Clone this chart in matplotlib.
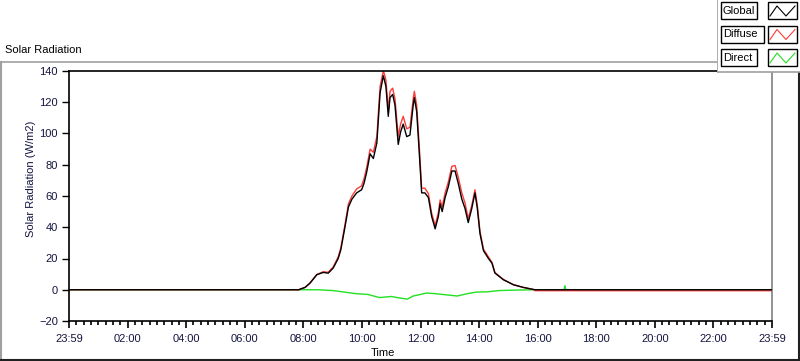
import numpy as np
import matplotlib
matplotlib.use("Agg")
import matplotlib.pyplot as plt
from matplotlib.patches import Rectangle
from matplotlib.lines import Line2D

plt.rcParams['font.family'] = ['Liberation Sans', 'DejaVu Sans']

# time of day in hours
t_global = [0.0, 7.85, 7.89, 8.06, 8.23, 8.46, 8.68, 8.85, 9.02, 9.19, 9.28, 9.42, 9.54,
            9.66, 9.82, 9.99, 10.07, 10.16, 10.28, 10.39, 10.51, 10.62, 10.73, 10.77,
            10.82, 10.90, 10.96, 11.05, 11.13, 11.24, 11.32, 11.41, 11.53, 11.64, 11.75,
            11.79, 11.87, 11.96, 12.04, 12.15, 12.27, 12.38, 12.50, 12.61, 12.67, 12.74,
            12.84, 12.95, 13.07, 13.18, 13.29, 13.41, 13.52, 13.63, 13.75, 13.86, 13.94,
            14.03, 14.15, 14.32, 14.44, 14.54, 14.83, 15.17, 15.51, 15.85, 15.91, 24.0]
global_rad = [0, 0, 0.4, 1.5, 4.3, 9.6, 11.1, 10.6, 13.9, 20, 25.6, 40, 53,
              58, 62, 64, 68, 75, 87, 84, 94, 126, 137, 134,
              130, 111, 123, 125, 118, 93, 101, 106, 98, 99, 118,
              123, 114, 87, 62, 62, 59, 47, 39, 47, 55, 50,
              59, 66, 76, 76, 68, 58, 52, 43, 52, 62, 52,
              36, 25, 20, 17, 10.7, 6.4, 3.2, 1.5, 0.2, 0, 0]
diffuse_rad = [0, 0, 0.4, 1.5, 4.4, 9.8, 11.5, 11.2, 14.6, 21, 26.8, 41.5, 55,
               60, 64.5, 66.5, 71, 78, 90, 88, 98, 130, 140, 138,
               134, 115, 127, 129, 122, 98, 106, 111, 103, 104, 122,
               127, 118, 91, 65, 65, 61.5, 49, 41, 49.5, 57.5, 53,
               62, 69, 79, 79.5, 72, 62, 55.5, 45.5, 54, 64, 54,
               37.5, 26, 21, 17.5, 11, 6.6, 3.3, 1.5, 0.2, -0.6, -0.6]

t_direct = [0.0, 7.9, 8.5, 9.0, 9.4, 9.8, 10.2, 10.6, 11.0, 11.3, 11.55, 11.75, 12.0,
            12.2, 12.5, 13.0, 13.25, 13.6, 13.9, 14.3, 14.7, 15.3, 15.9, 16.9, 16.93,
            16.96, 24.0]
direct_rad = [0, 0, 0, -0.5, -1.5, -2.5, -3, -5, -4.3, -5.3, -6, -4, -3,
              -2.1, -2.5, -3.5, -4, -2.5, -1.5, -1.3, -0.5, -0.2, 0, 0, 2.6,
              0, 0]

tick_hours = np.arange(0, 25, 2)
tick_labels = ['23:59', '02:00', '04:00', '06:00', '08:00', '10:00', '12:00',
               '14:00', '16:00', '18:00', '20:00', '22:00', '23:59']

W, H = 800, 361
fig = plt.figure(figsize=(8, 3.61), dpi=100)
fig.patch.set_facecolor('white')

# chart frame
frame = fig.add_axes([0, 0, 1, 1], zorder=-5)
frame.set_xlim(0, W)
frame.set_ylim(H, 0)
frame.axis('off')
frame.plot([0.5, 799.5], [61.5, 61.5], color='#a0a0a0', lw=1.2)
frame.plot([0.8, 0.8], [61.5, 360], color='#a0a0a0', lw=1.5)
frame.plot([0, 799.5], [359.8, 359.8], color='#202020', lw=1.5)
frame.plot([799.3, 799.3], [61.5, 360], color='#202020', lw=1.5)

ax = fig.add_axes([69 / W, 1 - 321 / H, (772 - 69) / W, (321 - 71) / H])
ax.plot(t_direct, direct_rad, color='#22e022', lw=1.0, zorder=1)
ax.plot(t_global, diffuse_rad, color='#ff3a3a', lw=1.0, zorder=2)
ax.plot(t_global, global_rad, color='black', lw=1.0, zorder=3)

ax.set_xlim(0, 24)
ax.set_ylim(-20, 140)
ax.set_xticks(tick_hours)
ax.set_xticklabels(tick_labels)
ax.set_xticks(np.arange(0, 24.01, 0.25), minor=True)
ax.set_yticks(np.arange(-20, 141, 20))
ax.tick_params(axis='x', which='major', length=5, width=1.2, pad=4,
               labelsize=8, labelcolor='#141440')
ax.tick_params(axis='x', which='minor', length=3, width=1.2)
ax.tick_params(axis='y', length=5, width=1.0, pad=3, labelsize=8, labelcolor='#141440')
for s in ['left', 'bottom', 'top']:
    ax.spines[s].set_color('black')
    ax.spines[s].set_linewidth(1.2)
ax.spines['right'].set_color('#808080')
ax.spines['right'].set_linewidth(1.2)

fig.text(5 / W, 1 - 50 / H, 'Solar Radiation', fontsize=8, va='center', ha='left')
fig.text(31 / W, 1 - 179 / H, 'Solar Radiation (W/m2)', fontsize=8, rotation=90,
         va='center', ha='center', color='#141440')
fig.text(383 / W, 1 - 353 / H, 'Time', fontsize=8, va='center', ha='center')

# legend box
leg = fig.add_axes([717 / W, 1 - 73 / H, 83 / W, 73 / H], zorder=5)
leg.set_xlim(717, 800)
leg.set_ylim(73, 0)
leg.axis('off')
leg.add_patch(Rectangle((717, 0), 83, 72, facecolor='white', edgecolor='none'))
leg.plot([717.5, 717.5], [0, 72], color='#a0a0a0', lw=1.2)
leg.plot([717.5, 800], [72, 72], color='#a0a0a0', lw=1.2)
names = ['Global', 'Diffuse', 'Direct']
colors = ['black', '#ff3a3a', '#22e022']
for i, (nm, c) in enumerate(zip(names, colors)):
    y0 = 2 + i * 23.5
    leg.add_patch(Rectangle((721, y0), 36 + (7 if nm == 'Diffuse' else 0), 17,
                            facecolor='white', edgecolor='black', lw=1.0))
    leg.text(723, y0 + 8.7, nm, fontsize=8, va='center', ha='left')
    leg.add_patch(Rectangle((768, y0), 29, 17, facecolor='white', edgecolor='black', lw=1.0))
    leg.add_line(Line2D([770, 777, 786, 795], [y0 + 14, y0 + 4, y0 + 14, y0 + 4],
                        color=c, lw=0.8))

fig.savefig('out.png', dpi=100)
